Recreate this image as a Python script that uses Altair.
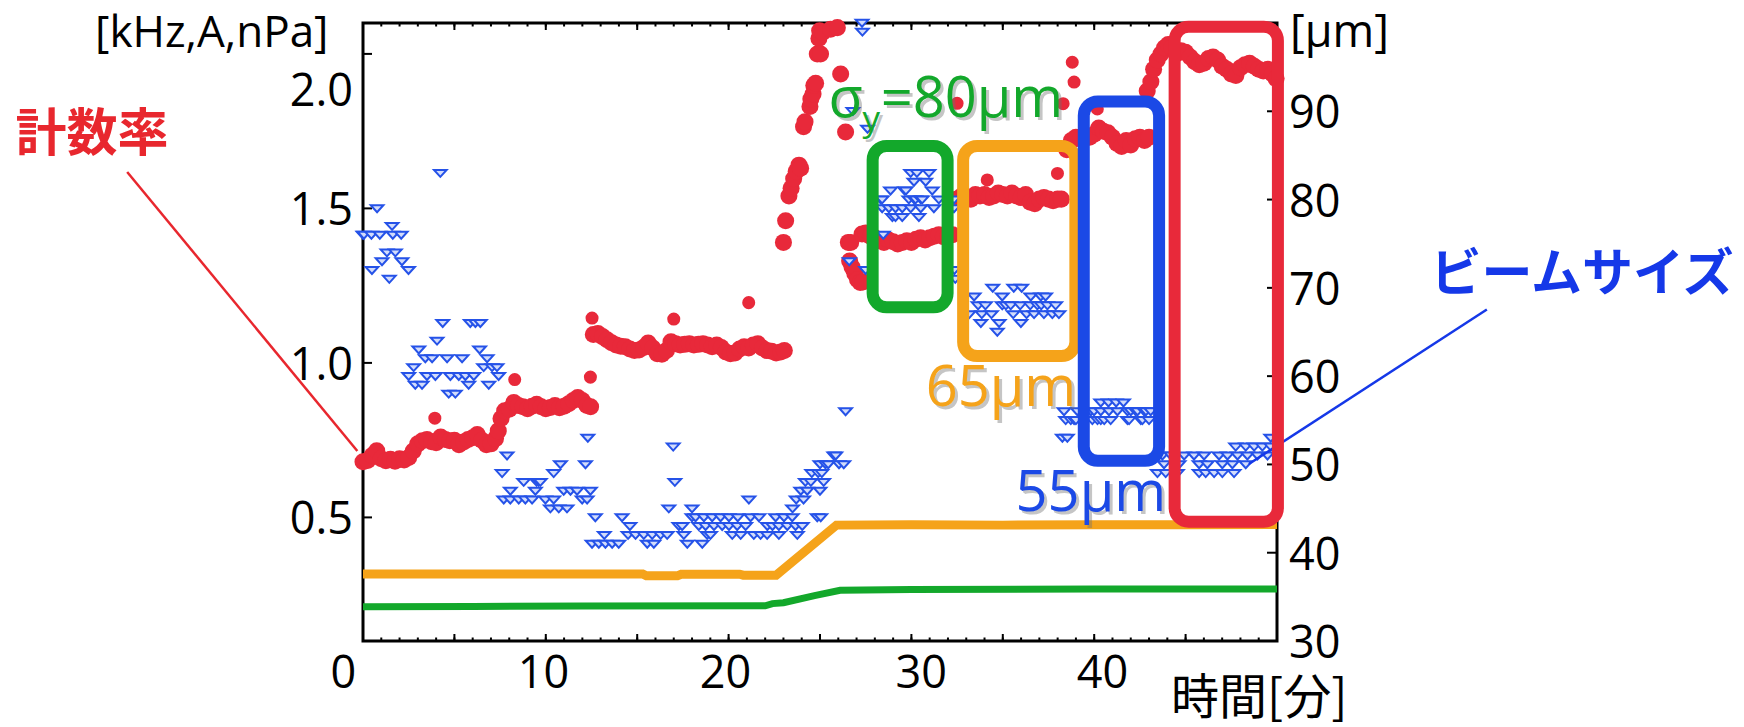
import altair as alt
import pandas as pd

# ---------------------------------------------------------------- colours
RED = "#e8293a"
ORANGE = "#f5a31a"
GREEN = "#13a82b"
BLUE = "#1b49e6"
BEAM_BLUE = "#2552e8"
LABEL_BLUE = "#1538e8"
LABEL_RED = "#e8272e"
FONT = "Open Sans"
CJK = "Noto Sans CJK JP"

W, H = 914, 618  # plot area

# ---------------------------------------------------------------- count rate [kHz] (red dots), (minute, value)
rate_step1 = [(0.0, 0.680), (0.25, 0.684), (0.5, 0.700), (0.75, 0.716), (1.0, 0.690), (1.25, 0.683),
              (1.5, 0.688), (1.75, 0.682), (2.0, 0.690), (2.25, 0.686), (2.5, 0.694), (2.75, 0.715),
              (3.0, 0.738), (3.25, 0.748), (3.5, 0.752), (3.75, 0.745), (4.0, 0.742), (4.25, 0.760),
              (4.5, 0.752), (4.75, 0.748), (5.0, 0.750), (5.25, 0.735), (5.5, 0.744), (5.75, 0.752),
              (6.0, 0.758), (6.25, 0.768), (6.5, 0.750), (6.75, 0.735), (7.0, 0.738), (7.25, 0.755),
              (7.4, 0.780), (7.55, 0.820)]
rate_step2 = [(7.75, 0.845), (8.0, 0.850), (8.25, 0.872), (8.5, 0.862), (8.75, 0.858), (9.0, 0.852),
              (9.25, 0.860), (9.5, 0.866), (9.75, 0.858), (10.0, 0.852), (10.25, 0.856), (10.5, 0.862),
              (10.75, 0.855), (11.0, 0.860), (11.25, 0.868), (11.5, 0.878), (11.75, 0.888), (12.0, 0.878),
              (12.25, 0.862), (12.45, 0.858)]
rate_step3 = [(12.6, 1.092), (12.85, 1.095), (13.1, 1.085), (13.35, 1.075), (13.6, 1.065), (13.85, 1.058),
              (14.1, 1.054), (14.35, 1.052), (14.6, 1.045), (14.85, 1.040), (15.1, 1.042), (15.35, 1.050),
              (15.6, 1.064), (15.85, 1.048), (16.1, 1.030), (16.35, 1.028), (16.6, 1.040), (16.85, 1.068),
              (17.1, 1.062), (17.35, 1.058), (17.6, 1.060), (17.85, 1.062), (18.1, 1.058), (18.35, 1.060),
              (18.6, 1.062), (18.85, 1.058), (19.1, 1.052), (19.35, 1.058), (19.6, 1.050), (19.85, 1.035),
              (20.1, 1.030), (20.35, 1.032), (20.6, 1.045), (20.85, 1.052), (21.1, 1.048), (21.35, 1.058),
              (21.6, 1.062), (21.85, 1.048), (22.1, 1.040), (22.35, 1.038), (22.6, 1.032), (22.85, 1.035),
              (23.05, 1.040)]
rate_climb1 = [(23.0, 1.39), (23.12, 1.46), (23.3, 1.54), (23.42, 1.565), (23.56, 1.596), (23.7, 1.62),
               (23.85, 1.64), (23.94, 1.63), (24.1, 1.764), (24.18, 1.78), (24.45, 1.83), (24.5, 1.854),
               (24.62, 1.87), (24.66, 1.898), (24.76, 1.905), (24.85, 2.0), (24.94, 2.05), (24.98, 2.075),
               (25.03, 2.0), (25.15, 2.07), (25.58, 2.08), (25.95, 2.085), (26.13, 1.935), (26.4, 1.747)]
rate_dip = [(26.55, 1.39), (26.68, 1.39), (26.62, 1.33), (26.75, 1.31), (26.9, 1.29), (27.05, 1.27),
            (27.2, 1.26), (27.35, 1.262), (27.3, 1.417)]
rate_step4 = [(27.5, 1.42), (27.75, 1.41), (28.0, 1.405), (28.25, 1.395), (28.5, 1.39), (28.75, 1.398),
              (29.0, 1.392), (29.25, 1.385), (29.5, 1.39), (29.75, 1.395), (30.0, 1.39), (30.25, 1.40),
              (30.5, 1.405), (30.75, 1.398), (31.0, 1.405), (31.25, 1.41), (31.5, 1.415), (31.75, 1.408),
              (32.0, 1.41), (32.25, 1.415)]
rate_step5 = [(32.5, 1.53), (32.75, 1.54), (33.0, 1.535), (33.25, 1.53), (33.5, 1.545), (33.75, 1.54),
              (34.0, 1.545), (34.25, 1.535), (34.5, 1.54), (34.75, 1.55), (35.0, 1.545), (35.25, 1.54),
              (35.5, 1.55), (35.75, 1.54), (36.0, 1.535), (36.25, 1.545), (36.5, 1.52), (36.75, 1.515),
              (37.0, 1.53), (37.25, 1.535), (37.5, 1.53), (37.75, 1.525), (38.0, 1.53), (38.2, 1.53)]
rate_step6 = [(38.5, 1.69), (38.75, 1.72), (39.0, 1.73), (39.25, 1.725), (39.5, 1.735), (39.75, 1.73),
              (40.0, 1.74), (40.25, 1.76), (40.5, 1.75), (40.75, 1.745), (41.0, 1.73), (41.25, 1.71),
              (41.5, 1.70), (41.75, 1.72), (42.0, 1.705), (42.25, 1.725), (42.5, 1.73), (42.75, 1.72),
              (43.0, 1.73)]
rate_climb2 = [(42.9, 1.88), (43.1, 1.91), (43.25, 1.95), (43.45, 1.98), (43.65, 2.0), (43.85, 2.02),
               (44.05, 2.03), (44.25, 2.02)]
rate_step7 = [(44.5, 2.0), (44.75, 2.01), (45.0, 2.005), (45.25, 1.99), (45.5, 1.975), (45.75, 1.965),
              (46.0, 1.97), (46.25, 1.985), (46.5, 1.99), (46.75, 1.98), (47.0, 1.96), (47.25, 1.95),
              (47.5, 1.935), (47.75, 1.93), (48.0, 1.955), (48.25, 1.965), (48.5, 1.97), (48.75, 1.96),
              (49.0, 1.95), (49.25, 1.945), (49.5, 1.95), (49.75, 1.935), (49.95, 1.92)]
rate_stray = [(3.93, 0.821), (8.3, 0.946), (12.44, 0.954), (12.53, 1.145), (17.0, 1.142), (21.1, 1.195),
              (32.5, 1.84), (34.15, 1.592), (37.99, 1.613), (38.3, 1.839), (38.8, 1.973), (38.9, 1.909),
              (40.17, 1.822)]

# ---------------------------------------------------------------- beam size [um] (blue triangles), (um, minutes)
beam_part1 = [(79, [0.77]), (77, [1.59]), (76, [0.0, 0.05, 0.46, 0.92, 1.63, 2.09]), (74, [1.31, 1.77]),
              (73, [1.04, 2.13]), (72, [0.49, 2.49]), (71, [1.44]), (83, [4.23])]
beam_part2 = [(66, [4.36, 5.87, 6.15, 6.42]), (64, [4.05]), (63, [3.05, 6.38]),
              (62, [3.41, 3.78, 4.6, 5.42, 6.79]), (61, [2.77, 6.6, 7.06, 7.33]),
              (60, [2.5, 3.5, 3.96, 4.78, 5.24, 5.6, 6.06, 7.42]), (59, [2.86, 3.23, 5.78, 6.88]),
              (58, [4.69, 5.05])]
beam_part3 = [(53, [12.3]), (51, [7.88]), (50, [10.8, 12.17]), (49, [7.61, 10.43]),
              (48, [8.79, 9.5, 9.61, 9.7]), (47, [8.06, 9.43, 10.98, 11.35, 11.71, 12.44]),
              (46, [7.7, 8.06, 8.52, 8.88, 9.25, 9.98, 10.43, 11.99, 12.26]), (45, [10.25, 10.71, 11.16])]
beam_part4 = [(44, [12.71, 14.17, 18.0, 18.19, 18.65, 19.1, 19.56, 20.02, 20.5, 21.2, 21.66, 22.57, 23.03,
                    23.48, 24.85, 25.04]),
              (43, [14.6, 17.28, 17.46, 18.37, 18.74, 19.2, 19.65, 20.02, 20.47, 20.93, 22.12, 22.4, 22.75,
                    23.21, 23.66, 24.03]),
              (42, [13.2, 14.5, 14.91, 15.36, 15.82, 16.28, 16.64, 17.55, 18.83, 19.01, 20.2, 20.66, 21.38,
                    21.75, 22.11, 22.75, 23.76]),
              (41, [12.53, 12.9, 13.26, 13.63, 13.99, 15.55, 15.91, 17.74, 18.56]),
              (45, [16.73, 18.0, 23.5]), (46, [21.11, 23.7, 24.1]), (47, [23.95, 24.3, 25.0]),
              (48, [17.06, 24.2, 24.5, 25.2]), (49, [24.55, 24.9, 25.1]),
              (50, [25.0, 25.3, 25.45, 26.04, 26.3]), (51, [25.76, 25.86]), (52, [16.97]), (56, [26.4])]
beam_part5 = [(100, [27.3]), (99, [27.32]), (90, [26.8]), (88, [27.6]), (73, [26.6]), (72, [27.5, 32.35]),
              (71, [32.4]), (76, [28.46]), (83, [29.96, 30.3, 30.96]), (82, [30.14, 30.78]),
              (81, [28.86, 29.63, 29.7, 31.14]),
              (80, [28.31, 28.4, 29.86, 30.15, 30.23, 30.51, 30.59, 31.5, 32.33]),
              (79, [28.4, 28.77, 29.13, 29.5, 29.96, 30.51, 31.23, 32.33]),
              (78, [28.96, 29.13, 29.5, 30.41])]
beam_part6 = [(70, [34.45, 35.6, 36.03]), (69, [33.43, 34.97, 36.53, 37.08, 37.34]),
              (68, [33.65, 34.05, 34.97, 35.17, 35.43, 35.95, 36.5, 36.89, 37.1, 37.44, 37.89]),
              (67, [33.16, 33.85, 34.38, 35.57, 36.3, 36.71, 37.25, 37.71, 38.07]),
              (66, [33.8, 34.8, 35.99]), (65, [34.7])]
beam_part7 = [(57, [40.36, 40.78, 41.2, 41.6]),
              (56, [38.35, 39.08, 39.82, 39.99, 40.36, 40.81, 41.27, 41.82, 42.0, 42.27, 42.37, 42.73,
                    42.83, 43.09]),
              (55, [38.44, 38.72, 38.9, 39.0, 39.9, 40.18, 40.36, 40.55, 40.9, 41.82, 41.91, 42.55, 42.64,
                    43.0]),
              (53, [38.26, 38.53])]
beam_part8 = [(53, [49.66]), (52, [47.74, 48.29, 48.75, 49.2, 49.66]),
              (51, [43.73, 44.19, 44.92, 45.46, 46.01, 46.83, 47.29, 47.84, 48.38, 48.93, 49.48]),
              (50, [43.82, 44.64, 45.74, 46.19, 47.01, 47.56, 48.29]),
              (49, [43.46, 43.91, 44.55, 45.74, 46.1, 46.56, 47.01, 47.65])]

# ---------------------------------------------------------------- beam current [A] (orange) and pressure [nPa] (green)
orange_t = [0, 15.3, 15.5, 17.2, 17.4, 20.6, 20.8, 22.6, 25.9, 30, 35, 40, 45, 50]
orange_v = [0.317, 0.317, 0.311, 0.311, 0.316, 0.316, 0.313, 0.313, 0.475, 0.476, 0.475, 0.476, 0.476, 0.477]
green_t = [0, 6, 12, 22.0, 22.4, 23.0, 24.7, 26.1, 30, 40, 50]
green_v = [0.211, 0.212, 0.213, 0.214, 0.221, 0.224, 0.247, 0.264, 0.267, 0.268, 0.268]

# ---------------------------------------------------------------- highlight boxes
box_t0 = [27.88, 32.83, 39.43, 44.40]
box_t1 = [31.98, 38.97, 43.55, 50.05]
box_v0 = [1.180, 1.022, 0.683, 0.486]
box_v1 = [1.702, 1.702, 1.846, 2.088]
box_col = [GREEN, ORANGE, BLUE, RED]

# ---------------------------------------------------------------- annotation texts
tag_txt = ["σ", "y", "=80μm", "65μm", "55μm"]
tag_t = [25.47, 27.33, 28.32, 30.78, 35.70]
tag_v = [1.796, 1.751, 1.796, 0.860, 0.522]
tag_size = [56, 35, 56, 56, 56]
tag_col = [GREEN, GREEN, GREEN, ORANGE, BLUE]

note_txt = ["計数率", "ビームサイズ"]
note_t = [-14.82, 66.68]
note_v = [1.7345, 1.2797]
note_col = [LABEL_RED, LABEL_BLUE]

lead_key = ["rate", "rate", "beam", "beam"]
lead_t = [-12.90, -0.31, 61.48, 48.46]
lead_v = [1.618, 0.715, 1.173, 0.673]
lead_col = [LABEL_RED, LABEL_RED, LABEL_BLUE, LABEL_BLUE]

# ---------------------------------------------------------------- axis ticks and tick labels
x_minor = list(range(0, 51))
x_major = list(range(0, 51, 5))
yl_tick_vals = [0.5, 1.0, 1.5, 2.0]
yr_tick_vals = [40, 50, 60, 70, 80, 90]

x_label_txt = ["0", "10", "20", "30", "40"]
x_label_t = [-1.08, 9.87, 19.83, 30.54, 40.45]
yl_label_txt = ["0.5", "1.0", "1.5", "2.0"]
yl_label_v = [0.5, 1.0, 1.5, 1.886]
yr_label_vals = [30, 40, 50, 60, 70, 80, 90]

# ---------------------------------------------------------------- frames
band_pairs = (rate_step1 + rate_step2 + rate_step3 + rate_climb1 + rate_dip + rate_step4 + rate_step5
              + rate_step6 + rate_climb2 + rate_step7)
band_df = pd.DataFrame(band_pairs, columns=["t", "v"])
stray_df = pd.DataFrame(rate_stray, columns=["t", "v"])

beam_rows = []
for part in [beam_part1, beam_part2, beam_part3, beam_part4, beam_part5, beam_part6, beam_part7, beam_part8]:
    for um, times in part:
        for t in times:
            beam_rows.append((t, um))
beam_df = pd.DataFrame(beam_rows, columns=["t", "um"])

orange_df = pd.DataFrame({"t": orange_t, "v": orange_v})
green_df = pd.DataFrame({"t": green_t, "v": green_v})
box_df = pd.DataFrame({"t0": box_t0, "t1": box_t1, "v0": box_v0, "v1": box_v1, "col": box_col})
tag_df = pd.DataFrame({"txt": tag_txt, "t": tag_t, "v": tag_v, "size": tag_size, "col": tag_col})
note_df = pd.DataFrame({"txt": note_txt, "t": note_t, "v": note_v, "col": note_col})
lead_df = pd.DataFrame({"key": lead_key, "t": lead_t, "v": lead_v, "col": lead_col})
xlab_df = pd.DataFrame({"txt": x_label_txt, "t": x_label_t})
yllab_df = pd.DataFrame({"txt": yl_label_txt, "v": yl_label_v})
yrlab_df = pd.DataFrame({"um": yr_label_vals, "txt": [str(u) for u in yr_label_vals]})
one_df = pd.DataFrame({"a": [0]})

# ---------------------------------------------------------------- scales
xs = alt.Scale(domain=[0, 50], nice=False, zero=False)
yl = alt.Scale(domain=[0.1, 2.1], nice=False, zero=False)
yr = alt.Scale(domain=[30, 100], nice=False, zero=False)

X = alt.X("t:Q", scale=xs, axis=None)
YL = alt.Y("v:Q", scale=yl, axis=None)
YR = alt.Y("um:Q", scale=yr, axis=None)

# ---------------------------------------------------------------- frame, ticks and tick labels
frame = alt.Chart(one_df).mark_rect(fill=None, stroke="black", strokeWidth=3).encode(
    x=alt.value(0), x2=alt.value(W), y=alt.value(0), y2=alt.value(H))


def x_ticks(vals, y_from, y_to):
    return alt.Chart(pd.DataFrame({"t": vals})).mark_rule(color="black", strokeWidth=2).encode(
        x=X, y=alt.value(y_from), y2=alt.value(y_to))


ticks_bottom_minor = x_ticks(x_minor, H, H - 3.5)
ticks_bottom_major = x_ticks(x_major, H, H - 7)
ticks_top_minor = x_ticks(x_minor, 0, 3.5)
ticks_top_major = x_ticks(x_major, 0, 7)

ticks_left = alt.Chart(pd.DataFrame({"v": yl_tick_vals})).mark_rule(color="black", strokeWidth=2).encode(
    y=YL, x=alt.value(0), x2=alt.value(9))

x_labels = alt.Chart(xlab_df).mark_text(font=FONT, fontSize=45, color="black", align="center",
                                        baseline="alphabetic").encode(
    x=X, y=alt.value(H + 47), text="txt:N")
yl_labels = alt.Chart(yllab_df).mark_text(font=FONT, fontSize=45, color="black", align="right",
                                          baseline="alphabetic", dy=17).encode(
    y=YL, x=alt.value(-10), text="txt:N")


def title_text(txt, x, y, font, size, align="left", baseline="alphabetic"):
    return alt.Chart(one_df).mark_text(text=txt, font=font, fontSize=size, color="black", align=align,
                                       baseline=baseline).encode(x=alt.value(x), y=alt.value(y))


title_left = title_text("[kHz,A,nPa]", -268, 24, FONT, 44)
title_right = title_text("[μm]", W + 13, 24, FONT, 45)
title_bottom = title_text("時間[分]", 808, 677, CJK, 48, baseline="middle")

# ---------------------------------------------------------------- measured series on the left scale
orange_line = alt.Chart(orange_df).mark_line(color=ORANGE, strokeWidth=9, strokeCap="butt").encode(x=X, y=YL)
green_line = alt.Chart(green_df).mark_line(color=GREEN, strokeWidth=7, strokeCap="butt").encode(x=X, y=YL)
rate_band = alt.Chart(band_df).mark_circle(color=RED, size=290, opacity=1).encode(x=X, y=YL)
rate_single = alt.Chart(stray_df).mark_circle(color=RED, size=170, opacity=1).encode(x=X, y=YL)

left_group = alt.layer(frame, ticks_bottom_minor, ticks_bottom_major, ticks_top_minor, ticks_top_major,
                       ticks_left, x_labels, yl_labels, title_left, title_right, title_bottom,
                       orange_line, green_line, rate_band, rate_single)

# ---------------------------------------------------------------- beam size on the right scale
ticks_right = alt.Chart(pd.DataFrame({"um": yr_tick_vals})).mark_rule(color="black", strokeWidth=2).encode(
    y=YR, x=alt.value(W), x2=alt.value(W - 10))
yr_labels = alt.Chart(yrlab_df).mark_text(font=FONT, fontSize=45, color="black", align="left",
                                          baseline="alphabetic", dy=17).encode(
    y=YR, x=alt.value(W + 12), text="txt:N")
beam_pts = alt.Chart(beam_df).mark_point(
    shape="M-1,-0.5L1,-0.5L0,0.6Z", size=160, filled=True, fill="#d2dcfb", stroke=BEAM_BLUE,
    strokeWidth=2, opacity=1).encode(x=X, y=YR)
right_group = alt.layer(ticks_right, yr_labels, beam_pts)

# ---------------------------------------------------------------- annotations (left scale)
leaders = alt.Chart(lead_df).mark_line(strokeWidth=2.5).encode(
    x=X, y=YL, detail="key:N", color=alt.Color("col:N", scale=None))
boxes = alt.Chart(box_df).mark_rect(filled=False, fill=None, strokeWidth=12, cornerRadius=14).encode(
    x=alt.X("t0:Q", scale=xs, axis=None), x2="t1:Q",
    y=alt.Y("v0:Q", scale=yl, axis=None), y2="v1:Q",
    stroke=alt.Color("col:N", scale=None))
tag_shadow = alt.Chart(tag_df).mark_text(
    font=FONT, align="left", baseline="alphabetic", color="#6f6f6f", opacity=0.4, dx=3, dy=3).encode(
    x=X, y=YL, text="txt:N", size=alt.Size("size:Q", scale=None))
tags = alt.Chart(tag_df).mark_text(font=FONT, align="left", baseline="alphabetic").encode(
    x=X, y=YL, text="txt:N", size=alt.Size("size:Q", scale=None), color=alt.Color("col:N", scale=None))
notes = alt.Chart(note_df).mark_text(font=CJK, fontWeight="bold", fontSize=51, align="center",
                                     baseline="middle").encode(
    x=X, y=YL, text="txt:N", color=alt.Color("col:N", scale=None))
annot_group = alt.layer(leaders, boxes, tag_shadow, tags, notes)

chart = (
    alt.layer(left_group, right_group, annot_group)
    .resolve_scale(y="independent")
    .properties(
        width=W, height=H,
        autosize=alt.AutoSizeParams(type="none"),
        padding={"left": 363, "top": 23, "right": 467, "bottom": 86},
        background="white",
    )
    .configure_view(stroke=None)
)

chart.save("out.html", embed_options={"renderer": "svg", "actions": False})
